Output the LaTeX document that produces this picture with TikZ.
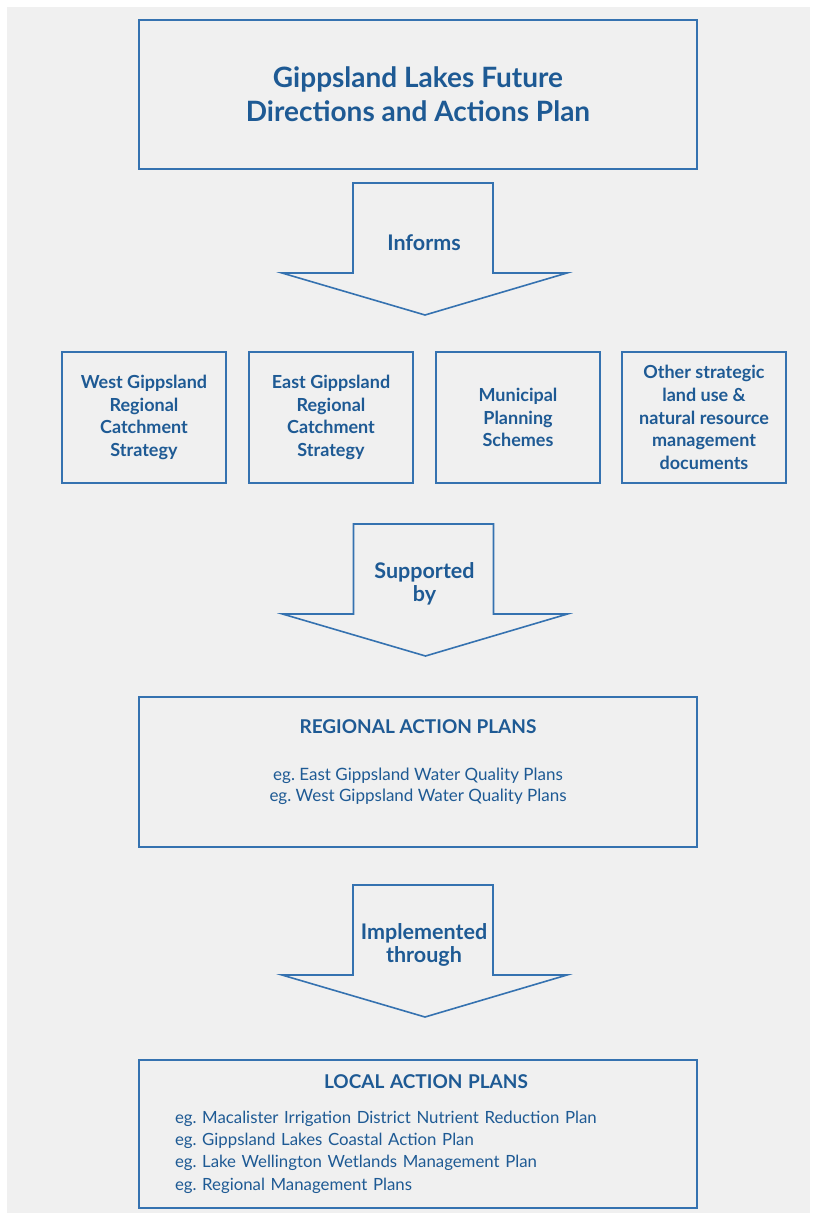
\documentclass[tikz,border=0pt]{standalone}
\usepackage{fontspec}
\setmainfont{Lato}
\usetikzlibrary{positioning,calc}
\definecolor{lineblue}{HTML}{3572B0}
\definecolor{inkblue}{HTML}{1E5A94}
\definecolor{paper}{HTML}{F0F0F0}
\frenchspacing

\begin{document}
\begin{tikzpicture}[x=1pt,y=-1pt,
    box/.style={draw=lineblue,line width=2pt,inner sep=0pt,outer sep=0pt,
      text=inkblue,align=center},
    widebox/.style={box,minimum width=558pt},
    docbox/.style={box,minimum width=164pt,minimum height=131pt,
      font=\fontsize{18}{22.7}\selectfont\bfseries},
    blkarrow/.style={draw=lineblue,line width=1.6pt},
    arrowtext/.style={text=inkblue,align=center,
      font=\fontsize{21.5}{23.5}\selectfont\bfseries}]
 \useasboundingbox[fill=white] (0,0) rectangle (817,1220);
 \fill[paper] (7,7) rectangle (810,1213);
 % plan at the top
 \node[widebox,minimum height=149pt,anchor=north west,
   font=\fontsize{28}{34}\selectfont\bfseries] (dirplan) at (139,20)
  {Gippsland Lakes Future\\Directions and Actions Plan};
 % strategies row
 \node[docbox,anchor=north west] (westcs) at (62,352)
  {West Gippsland\\Regional\\Catchment\\Strategy};
 \node[docbox,right=23pt of westcs] (eastcs)
  {East Gippsland\\Regional\\Catchment\\Strategy};
 \node[docbox,right=23pt of eastcs] (municipal)
  {Municipal\\Planning\\Schemes};
 \node[docbox,right=22pt of municipal] (otherdocs)
  {Other strategic\\land use \&\\natural resource\\management\\documents};
 % action plans
 \node[widebox,minimum height=150pt,anchor=north west,
   font=\fontsize{17}{21}\selectfont] (regional) at (139,697)
  {{\bfseries\fontsize{19}{21}\selectfont REGIONAL ACTION PLANS}\\[26pt]
   eg. East Gippsland Water Quality Plans\\
   eg. West Gippsland Water Quality Plans\rule[-22pt]{0pt}{1pt}};
 \node[widebox,minimum height=148pt,anchor=north west,align=left,
   text width=486pt,inner xsep=36pt,font=\fontsize{16.8}{22.3}\selectfont] (local) at (139,1060)
  {\makebox[486pt][c]{\hspace*{16pt}\bfseries\fontsize{19}{22.3}\selectfont LOCAL ACTION PLANS}\\[12pt]
   eg. Macalister Irrigation District Nutrient Reduction Plan\\
   eg. Gippsland Lakes Coastal Action Plan\\
   eg. Lake Wellington Wetlands Management Plan\\
   eg. Regional Management Plans};
 % block arrows between the levels
 \coordinate (informs-top) at ($(dirplan.south)+(5,14)$);
 \coordinate (supported-top) at ($(eastcs.south)!0.5!(municipal.south)+(-1,41)$);
 \coordinate (implemented-top) at ($(regional.south)+(5,38)$);
 \foreach \nm/\txt in {informs/Informs,supported/{Supported\\by},
     implemented/{Implemented\\through}} {
  \draw[blkarrow] ($(\nm-top)+(-70,0)$) -- ++(140,0) -- ++(0,90) -- ++(74,0)
    -- ++(-142,42) -- ++(-143,-42) -- ++(71,0) -- cycle;
  \node[arrowtext] (\nm) at ($(\nm-top)+(1,60)$) {\txt};
 }
\end{tikzpicture}
\end{document}
